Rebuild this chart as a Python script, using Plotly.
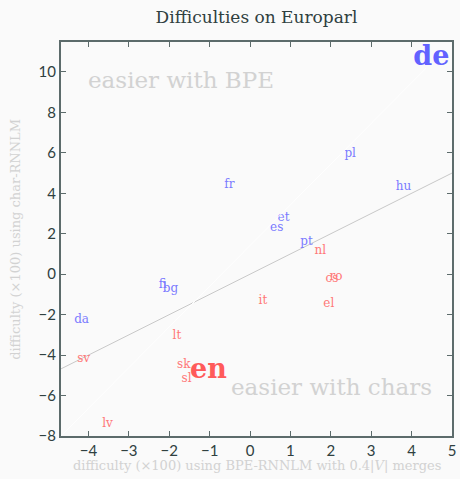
import plotly.graph_objects as go

# Per-language difficulty (x100): BPE-RNNLM (x) vs char-RNNLM (y)
languages = ["de", "pl", "fr", "hu", "et", "es", "pt", "nl", "ro", "cs", "fi",
             "bg", "it", "el", "da", "lt", "sv", "sk", "sl", "en", "lv"]
bpe_difficulty = [4.49, 2.48, -0.51, 3.80, 0.83, 0.66, 1.40, 1.74, 2.13, 2.03, -2.16,
                  -1.97, 0.32, 1.95, -4.17, -1.81, -4.12, -1.64, -1.57, -1.03, -3.53]
char_difficulty = [10.70, 5.94, 4.40, 4.30, 2.80, 2.30, 1.60, 1.15, -0.15, -0.25, -0.55,
                   -0.75, -1.34, -1.49, -2.28, -3.07, -4.20, -4.50, -5.20, -4.80, -7.40]
highlighted = ["de", "en"]

x_range = [-4.68, 5.0]
y_range = [-8.0, 11.48]
x_ticks = [-4, -3, -2, -1, 0, 1, 2, 3, 4, 5]
y_ticks = [-8, -6, -4, -2, 0, 2, 4, 6, 8, 10]

SERIF = "DejaVu Serif"
SANS = "Lato"
INK = "#2f4040"
AXIS = "#5c6b6b"
FAINT = "#d2d2d2"

fig = go.Figure()

# y = x reference line across the full x range
fig.add_trace(go.Scatter(
    x=x_range, y=x_range, mode="lines",
    line=dict(color="#c8c8c8", width=1),
    hoverinfo="skip", showlegend=False,
))

# language labels: blue above the y = x line, red below
for lang, bx, cy in zip(languages, bpe_difficulty, char_difficulty):
    above = cy > bx
    big = lang in highlighted
    if big:
        color = "#6262ff" if above else "#ff5a5a"
        size = 27
        text = "<b>%s</b>" % lang
    else:
        color = "#7a7aff" if above else "#ff7878"
        size = 12
        text = lang
    fig.add_trace(go.Scatter(
        x=[bx], y=[cy], mode="text", text=[text],
        textposition="middle center",
        textfont=dict(family=SERIF, size=size, color=color),
        hoverinfo="skip", showlegend=False,
    ))

# faint diagonal of the plotting box
fig.add_shape(type="line", xref="paper", yref="paper",
              x0=0, y0=0, x1=0.934, y1=0.934,
              line=dict(color="#ffffff", width=1))

fig.add_annotation(x=-4.07, y=9.6, xref="x", yref="y", xanchor="left",
                   text="easier with BPE", showarrow=False,
                   font=dict(family=SERIF, size=23, color=FAINT))
fig.add_annotation(x=-0.51, y=-5.6, xref="x", yref="y", xanchor="left",
                   text="easier with chars", showarrow=False,
                   font=dict(family=SERIF, size=23, color=FAINT))

# axis titles
fig.add_annotation(x=0.5, y=-0.076, xref="paper", yref="paper",
                   xanchor="center", yanchor="middle",
                   text="difficulty (\u00d7100) using BPE-RNNLM with 0.4|<i>V</i>| merges",
                   showarrow=False, font=dict(family=SERIF, size=13, color=FAINT))
fig.add_annotation(x=-0.118, y=0.5, xref="paper", yref="paper",
                   xanchor="center", yanchor="middle", textangle=-90,
                   text="difficulty (\u00d7100) using char-RNNLM",
                   showarrow=False, font=dict(family=SERIF, size=13, color=FAINT))

axis_common = dict(
    showgrid=False, zeroline=False, showline=True, linecolor=AXIS, linewidth=2,
    mirror="ticks", ticks="inside", ticklen=5, tickwidth=1, tickcolor=AXIS,
    tickfont=dict(family=SANS, size=15, color=INK),
)

fig.update_layout(
    width=460, height=479,
    margin=dict(l=61, r=4, t=42, b=43),
    paper_bgcolor="#fafafa", plot_bgcolor="#fafafa",
    title=dict(text="Difficulties on Europarl", x=0.5, xref="paper", y=0.965,
               yanchor="middle", font=dict(family=SERIF, size=17, color=INK)),
    xaxis=dict(range=x_range, tickvals=x_ticks, **axis_common),
    yaxis=dict(range=y_range, tickvals=y_ticks, **axis_common),
)

fig.write_html("out.html")
